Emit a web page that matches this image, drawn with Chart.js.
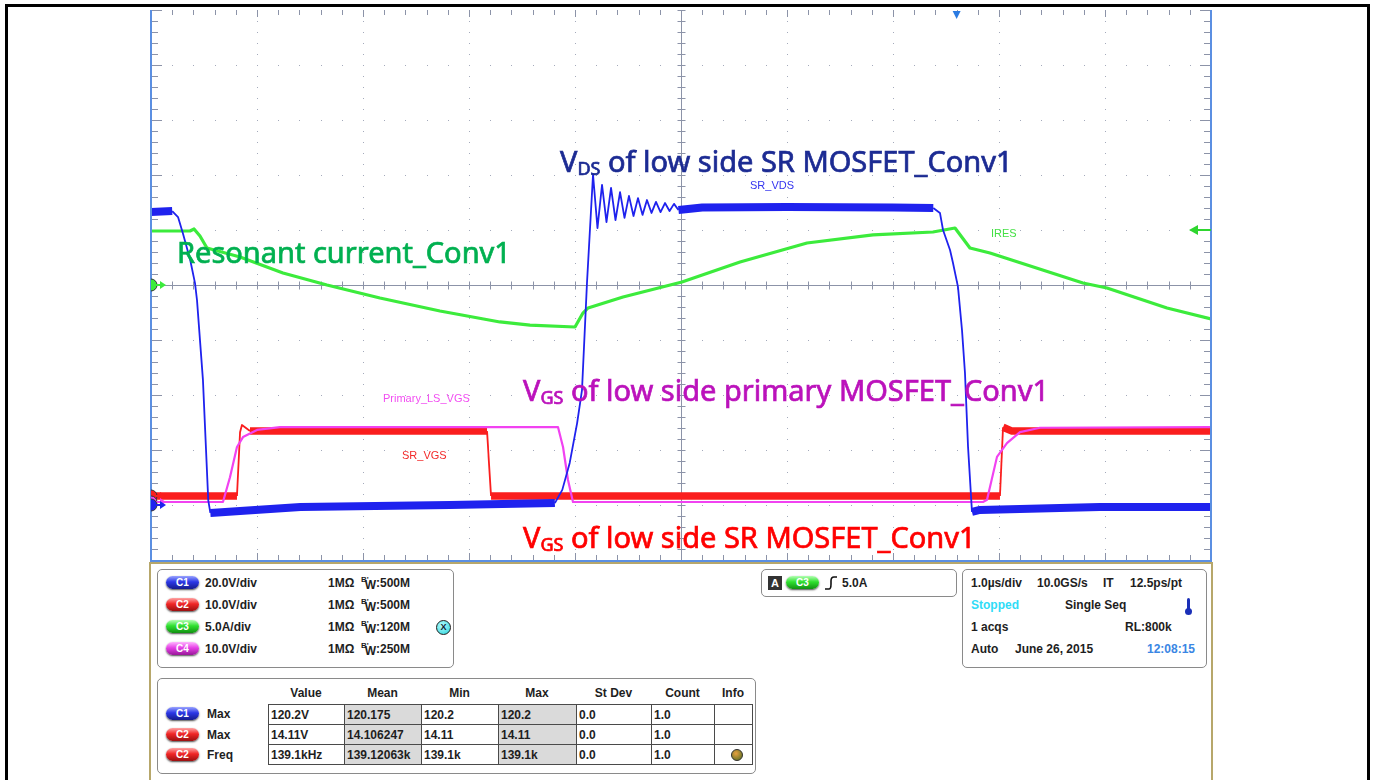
<!DOCTYPE html>
<html>
<head>
<meta charset="utf-8">
<title>LLC Conv1 SR waveforms</title>
<script src="https://cdn.jsdelivr.net/npm/chart.js@4.4.1/dist/chart.umd.min.js"></script>
<style>
  html, body { margin: 0; padding: 0; background: #fff; }
  #page { position: relative; width: 1375px; height: 780px; overflow: hidden; }
  #frame { position: absolute; left: 5px; top: 4px; width: 1359px; height: 820px; border: 3px solid #000; }
  #scope { position: absolute; left: 0; top: 0; }
  .big { position: absolute; white-space: nowrap; font-family: "Noto Sans", sans-serif; font-size: 29px; line-height: 29px;
         -webkit-text-stroke: 0.7px currentColor; }
  .big sub { font-size: 18px; vertical-align: -3px; line-height: 0; }
  .tag { position: absolute; white-space: nowrap; font-family: "Liberation Sans", Arial, sans-serif; font-size: 11px; line-height: 12px; }
  #panel { position: absolute; left: 149px; top: 562px; width: 1060px; height: 260px; border: 2px solid #b7a76b; border-bottom: none; background: #fff; }
  .box { position: absolute; border: 1px solid #8a8a8a; border-radius: 5px; background: #fff; }
  .t { position: absolute; white-space: nowrap; font: bold 12px "Liberation Sans", Arial, sans-serif; color: #1e1e1e; line-height: 14px; }
  .pill { position: absolute; width: 33px; height: 13px; border-radius: 7px; color: #fff; text-align: center;
          font: bold 10px "Liberation Sans", Arial, sans-serif; line-height: 13px; box-shadow: 0 1px 2px rgba(0,0,0,.7); }
  .bw sup { font-size: 8px; vertical-align: 5px; line-height: 0; }
  .bw sub { font-size: 12px; vertical-align: -2px; line-height: 0; margin-left: -4px; }
  #meas { position: absolute; left: 268px; top: 704px; border-collapse: collapse; table-layout: fixed; }
  #meas td { border: 1px solid #4a4a4a; height: 19px; padding: 0 0 0 2px; font: bold 12px "Liberation Sans", Arial, sans-serif; color: #1e1e1e; overflow: hidden; white-space: nowrap; }
  #meas td.sh { background: #dadada; }
</style>
</head>
<body>
<div id="page">
  <div id="frame"></div>
  <canvas id="scope" width="1375" height="780"></canvas>

  <div class="big" style="left:560px; top:146px; color:#1c2b93;">V<sub>DS</sub> of low side SR MOSFET_Conv1</div>
  <div class="big" style="left:177px; top:237px; color:#00b050;">Resonant current_Conv1</div>
  <div class="big" style="left:523px; top:375px; color:#bb12bb;">V<sub>GS</sub> of low side primary MOSFET_Conv1</div>
  <div class="big" style="left:523px; top:522px; color:#ff0000;">V<sub>GS</sub> of low side SR MOSFET_Conv1</div>

  <div class="tag" style="left:750px; top:179px; color:#3535ef;">SR_VDS</div>
  <div class="tag" style="left:991px; top:227px; color:#45e045;">IRES</div>
  <div class="tag" style="left:383px; top:392px; color:#f24ef2;">Primary_LS_VGS</div>
  <div class="tag" style="left:402px; top:449px; color:#f22a2a;">SR_VGS</div>

  <div id="panel"></div>
  <div id="readout"></div>
</div>

<script>
// time base 1.0 us/div, ten divisions across, time zero at the centre line
const timeMin = -5;
const timeMax = 5;

// C1  SR_VDS, volts
const vdsTime = [-5.0, -4.80, -4.745, -4.70, -4.63, -4.585, -4.566, -4.51, -4.46, -4.44, -4.16, -3.59, -2.18,
  -1.19, -1.12, -1.05, -0.98, -0.934, -0.887, -0.830, -0.788, -0.745, -0.703, -0.660, -0.618, -0.575, -0.533,
  -0.491, -0.448, -0.406, -0.363, -0.321, -0.278, -0.236, -0.193, -0.151, -0.108, -0.066, -0.024, 0.2, 1.0, 2.0,
  2.38, 2.443, 2.472, 2.538, 2.566, 2.613, 2.651, 2.679, 2.708, 2.745, 2.82, 3.95, 5.0];
const vdsVolts = [106.5, 106.9, 104.7, 98.9, 89.1, 80.7, 74.5, 45.5, 1.8, -2.9, -2.2, -0.7, 0,
  0.7, 5.5, 15.3, 29.8, 41.8, 80.7, 120.2, 100.7, 116.4, 102.9, 115.3, 103.6, 113.8, 104.4,
  112.4, 105.1, 111.6, 105.5, 110.9, 106.2, 110.2, 106.5, 109.8, 106.9, 109.5, 107.3, 108.2, 108.4, 108.2,
  108.0, 106.2, 100.0, 92.7, 88.0, 79.3, 63.6, 48.0, 21.1, -2.5, -1.8, -0.7, -0.7];

// C3  IRES, amps
const iresTime = [-5.0, -4.632, -4.594, -4.538, -4.472, -4.160, -3.755, -3.340, -2.840, -2.274, -1.708, -1.425,
  -1.000, -0.925, -0.877, -0.547, 0.009, 0.557, 1.189, 1.811, 2.377, 2.585, 2.726, 2.915, 3.792, 4.019, 4.585, 5.0];
const iresAmps = [4.91, 4.91, 5.09, 4.45, 3.36, 2.55, 1.09, 0.0, -1.18, -2.36, -3.36, -3.64,
  -3.82, -2.55, -2.09, -1.09, 0.27, 2.09, 3.82, 4.55, 4.82, 5.18, 3.36, 2.91, 0.18, -0.27, -2.09, -3.09];

// C2  SR_VGS, volts
const srVgsTime = [-5.0, -4.189, -4.160, -4.142, -4.066, -1.830, -1.792, 3.009, 3.038, 3.123, 5.0];
const srVgsVolts = [0, 0, 11.6, 12.9, 11.8, 11.8, 0, 0, 12.5, 11.8, 11.8];

// C4  Primary_LS_VGS, volts
const priVgsTime = [-5.0, -4.321, -4.255, -4.189, -4.132, -4.0, -3.783, -1.160, -1.113, -1.066, -1.019,
  2.849, 2.887, 2.981, 3.075, 3.198, 3.387, 5.0];
const priVgsVolts = [0, 0, 4.5, 10.0, 11.8, 13.1, 13.6, 13.6, 10.0, 4.0, 0,
  0, 0.4, 8.2, 10.7, 12.7, 13.5, 13.6];

// trigger: C3 rising edge at 5.0 A
const triggerLevel = 5.0;
const triggerTime = 2.6;

// vertical settings panel
const chanIds = ['C1', 'C2', 'C3', 'C4'];
const chanScale = ['20.0V/div', '10.0V/div', '5.0A/div', '10.0V/div'];
const chanBw = ['500M', '500M', '120M', '250M'];

// measurement table
const measHeads = ['Value', 'Mean', 'Min', 'Max', 'St Dev', 'Count', 'Info'];
const measSource = ['C1', 'C2', 'C2'];
const measType = ['Max', 'Max', 'Freq'];
const measValue = ['120.2V', '14.11V', '139.1kHz'];
const measMean = ['120.175', '14.106247', '139.12063k'];
const measMin = ['120.2', '14.11', '139.1k'];
const measMax = ['120.2', '14.11', '139.1k'];
const measStdDev = ['0.0', '0.0', '0.0'];
const measCount = ['1.0', '1.0', '1.0'];

// per channel: units/div, ground position in divisions, colours
const scope = {
  c1: { perDiv: 20, ground: -4.0,   trace: '#1f22ee', pill: ['#9aa4ff', '#2b37e6', '#161c8c'] },
  c2: { perDiv: 10, ground: -3.836, trace: '#fa1e1e', pill: ['#ffa4a4', '#f02626', '#9c1010'] },
  c3: { perDiv: 5,  ground: 0,      trace: '#3ceb3c', pill: ['#b4ffb4', '#2fe02f', '#129012'] },
  c4: { perDiv: 10, ground: -3.945, trace: '#f142f1', pill: ['#ffb6ff', '#e640e6', '#981898'] }
};

function pts(t, v) {
  return t.map((x, i) => ({ x: x, y: v[i] }));
}

function channelAxis(c) {
  return { type: 'linear', axis: 'y', position: 'left', display: false,
           min: (-5 - c.ground) * c.perDiv, max: (5 - c.ground) * c.perDiv };
}

// noisy flat stretches show up as a wide band, fast edges as a thin line
function bandWidth(wide, thin) {
  return function(ctx) {
    const dx = Math.abs(ctx.p1.x - ctx.p0.x), dy = Math.abs(ctx.p1.y - ctx.p0.y);
    return dy < dx * 0.6 ? wide : thin;
  };
}

const minorSteps = [];
for (let k = -25; k <= 25; k++) minorSteps.push(k / 5);

const graticule = {
  id: 'graticule',
  beforeDatasetsDraw(chart) {
    const { ctx, chartArea: a } = chart;
    const xs = chart.scales.x, ys = chart.scales.div;
    ctx.save();
    // dotted division lines
    ctx.fillStyle = '#a4aabb';
    for (let d = -4; d <= 4; d++) {
      if (d === 0) continue;
      const gx = Math.round(xs.getPixelForValue(d));
      const gy = Math.round(ys.getPixelForValue(d));
      minorSteps.forEach(m => {
        ctx.fillRect(gx, Math.round(ys.getPixelForValue(m)), 1, 1);
        ctx.fillRect(Math.round(xs.getPixelForValue(m)), gy, 1, 1);
      });
    }
    // centre cross and edge ticks
    const cx = Math.round(xs.getPixelForValue(0)) + 0.5;
    const cy = Math.round(ys.getPixelForValue(0)) + 0.5;
    ctx.strokeStyle = '#8c93a8';
    ctx.lineWidth = 1;
    ctx.beginPath();
    ctx.moveTo(a.left, cy); ctx.lineTo(a.right, cy);
    ctx.moveTo(cx, a.top); ctx.lineTo(cx, a.bottom);
    minorSteps.forEach(m => {
      const px = Math.round(xs.getPixelForValue(m)) + 0.5;
      const py = Math.round(ys.getPixelForValue(m)) + 0.5;
      const major = Math.abs(m - Math.round(m)) < 1e-6;
      ctx.moveTo(px, cy - 4); ctx.lineTo(px, cy + 4);
      ctx.moveTo(cx - 4, py); ctx.lineTo(cx + 4, py);
      ctx.moveTo(px, a.top); ctx.lineTo(px, a.top + (major ? 7 : 5));
      ctx.moveTo(px, a.bottom); ctx.lineTo(px, a.bottom - (major ? 7 : 5));
      ctx.moveTo(a.left, py); ctx.lineTo(a.left + (major ? 11 : 7), py);
      ctx.moveTo(a.right, py); ctx.lineTo(a.right - (major ? 11 : 7), py);
    });
    ctx.stroke();
    ctx.restore();
  }
};

const markers = {
  id: 'markers',
  afterDatasetsDraw(chart) {
    const { ctx, chartArea: a, scales } = chart;
    ctx.save();
    // blue screen border
    ctx.fillStyle = '#5b8fe2';
    ctx.fillRect(a.left - 1, a.top, 2, a.bottom - a.top + 2);
    ctx.fillRect(a.right - 1, a.top, 2, a.bottom - a.top + 2);
    ctx.fillRect(a.left - 1, a.bottom, a.right - a.left + 2, 2);

    ctx.beginPath();
    ctx.rect(a.left, a.top, a.right - a.left, a.bottom - a.top);
    ctx.clip();

    // ground reference markers
    ['c2', 'c4', 'c1', 'c3'].forEach(id => {
      const y = scales[id].getPixelForValue(0);
      ctx.fillStyle = scope[id].trace;
      ctx.strokeStyle = '#333';
      ctx.lineWidth = 1;
      ctx.beginPath();
      ctx.arc(a.left, y, 6, 0, Math.PI * 2);
      ctx.fill();
      ctx.stroke();
      ctx.lineWidth = 2;
      ctx.strokeStyle = scope[id].trace;
      ctx.beginPath();
      ctx.moveTo(a.left + 5, y); ctx.lineTo(a.left + 10, y);
      ctx.stroke();
      ctx.beginPath();
      ctx.moveTo(a.left + 9, y - 4); ctx.lineTo(a.left + 15, y); ctx.lineTo(a.left + 9, y + 4);
      ctx.closePath();
      ctx.fill();
    });

    // trigger level on the right edge
    const ty = scales.c3.getPixelForValue(triggerLevel);
    ctx.fillStyle = '#2fd62f';
    ctx.fillRect(a.right - 14, ty - 1, 14, 2);
    ctx.beginPath();
    ctx.moveTo(a.right - 22, ty); ctx.lineTo(a.right - 13, ty - 5); ctx.lineTo(a.right - 13, ty + 5);
    ctx.closePath();
    ctx.fill();

    // trigger position on the top edge
    const tx = scales.x.getPixelForValue(triggerTime);
    ctx.fillStyle = '#2b7be2';
    ctx.beginPath();
    ctx.moveTo(tx - 4, a.top + 1); ctx.lineTo(tx + 4, a.top + 1); ctx.lineTo(tx, a.top + 9);
    ctx.closePath();
    ctx.fill();
    ctx.restore();
  }
};

new Chart(document.getElementById('scope'), {
  type: 'line',
  data: {
    datasets: [
      { label: 'SR_VDS', yAxisID: 'c1', data: pts(vdsTime, vdsVolts), borderColor: scope.c1.trace,
        segment: { borderWidth: bandWidth(8, 1.8) } },
      { label: 'IRES', yAxisID: 'c3', data: pts(iresTime, iresAmps), borderColor: scope.c3.trace, borderWidth: 3.2 },
      { label: 'Primary_LS_VGS', yAxisID: 'c4', data: pts(priVgsTime, priVgsVolts), borderColor: scope.c4.trace, borderWidth: 2.2 },
      { label: 'SR_VGS', yAxisID: 'c2', data: pts(srVgsTime, srVgsVolts), borderColor: scope.c2.trace,
        segment: { borderWidth: bandWidth(7.5, 1.8) } }
    ]
  },
  options: {
    responsive: false,
    devicePixelRatio: 1,
    animation: false,
    layout: { padding: { left: 151, top: 10, right: 164, bottom: 220 } },
    elements: { point: { radius: 0 }, line: { tension: 0, borderJoinStyle: 'round' } },
    plugins: { legend: { display: false }, tooltip: { enabled: false } },
    scales: {
      x: { type: 'linear', min: timeMin, max: timeMax, display: false },
      div: { type: 'linear', axis: 'y', position: 'left', min: -5, max: 5, display: false },
      c1: channelAxis(scope.c1),
      c2: channelAxis(scope.c2),
      c3: channelAxis(scope.c3),
      c4: channelAxis(scope.c4)
    }
  },
  plugins: [graticule, markers]
});

// ---- readout panel below the screen ----
var html = '';

function pill(id, left, cy) {
  var c = scope[id.toLowerCase()].pill;
  return '<div class="pill" style="left:' + left + 'px; top:' + (cy - 7) + 'px; background:linear-gradient(180deg,' +
    c[0] + ' 0%,' + c[1] + ' 45%,' + c[2] + ' 100%);">' + id + '</div>';
}
function txt(s, left, cy, extra) {
  return '<div class="t" style="left:' + left + 'px; top:' + (cy - 7) + 'px;' + (extra || '') + '">' + s + '</div>';
}

// vertical settings
html += '<div class="box" style="left:157px; top:569px; width:295px; height:97px;"></div>';
chanIds.forEach(function(id, i) {
  var cy = 583 + i * 22;
  html += pill(id, 166, cy);
  html += txt(chanScale[i], 205, cy);
  html += txt('1MΩ', 328, cy);
  html += txt('<span class="bw"><sup>B\'</sup><sub>W</sub></span>:' + chanBw[i], 361, cy);
});
html += '<div style="position:absolute; left:436px; top:620px; width:13px; height:13px; border-radius:50%; border:1px solid #1d1d1d;' +
  ' background:radial-gradient(circle at 40% 35%, #b8ffff, #22d0d8); font:bold 9px \'Liberation Sans\', Arial; line-height:13px; text-align:center; color:#123;">X</div>';

// trigger box
html += '<div class="box" style="left:761px; top:569px; width:194px; height:26px;"></div>';
html += '<div style="position:absolute; left:768px; top:576px; width:14px; height:14px; background:#333; color:#fff; font:bold 11px \'Liberation Sans\', Arial; line-height:14px; text-align:center;">A</div>';
html += pill('C3', 786, 583);
html += '<svg style="position:absolute; left:824px; top:575px;" width="14" height="16"><path d="M1 14 L5 14 Q7 14 7 9 L7 6 Q7 2 10 2 L13 2" fill="none" stroke="#111" stroke-width="1.6"/></svg>';
html += txt('5.0A', 842, 583);

// horizontal / acquisition box
html += '<div class="box" style="left:962px; top:569px; width:243px; height:97px;"></div>';
html += txt('1.0µs/div', 971, 583) + txt('10.0GS/s', 1037, 583) + txt('IT', 1103, 583) + txt('12.5ps/pt', 1130, 583);
html += txt('Stopped', 971, 605, ' color:#2fdcf7;') + txt('Single Seq', 1065, 605);
html += '<div style="position:absolute; left:1187px; top:598px; width:3px; height:12px; background:#1a2fb8; border-radius:2px;"></div>';
html += '<div style="position:absolute; left:1185px; top:608px; width:7px; height:7px; background:#1a2fb8; border-radius:50%;"></div>';
html += txt('1 acqs', 971, 627) + txt('RL:800k', 1125, 627);
html += txt('Auto', 971, 649) + txt('June 26, 2015', 1015, 649) + txt('12:08:15', 1147, 649, ' color:#3a86e4;');

// measurements
var colLeft = [268, 344, 421, 498, 576, 651, 714, 752];
html += '<div class="box" style="left:157px; top:678px; width:597px; height:94px;"></div>';
measHeads.forEach(function(h, j) {
  var mid = (colLeft[j] + colLeft[j + 1]) / 2;
  html += '<div class="t" style="left:' + (mid - 40) + 'px; width:80px; text-align:center; top:686px;">' + h + '</div>';
});
var rows = '';
measSource.forEach(function(src, i) {
  var cy = 714 + i * 20.5;
  html += pill(src, 166, cy);
  html += txt(measType[i], 207, cy);
  var cells = [measValue[i], measMean[i], measMin[i], measMax[i], measStdDev[i], measCount[i], ''];
  rows += '<tr>';
  cells.forEach(function(c, j) {
    var w = colLeft[j + 1] - colLeft[j] - 3;
    var shade = (j === 1 || j === 3) ? ' class="sh"' : '';
    var icon = (i === 2 && j === 6) ? '<div style="margin-left:14px; width:10px; height:10px; border-radius:50%; border:1px solid #333; background:radial-gradient(circle at 40% 35%, #e8a040, #4a6a20);"></div>' : '';
    rows += '<td' + shade + ' style="width:' + w + 'px;">' + c + icon + '</td>';
  });
  rows += '</tr>';
});
html += '<table id="meas">' + rows + '</table>';

document.getElementById('readout').innerHTML = html;
</script>
</body>
</html>
